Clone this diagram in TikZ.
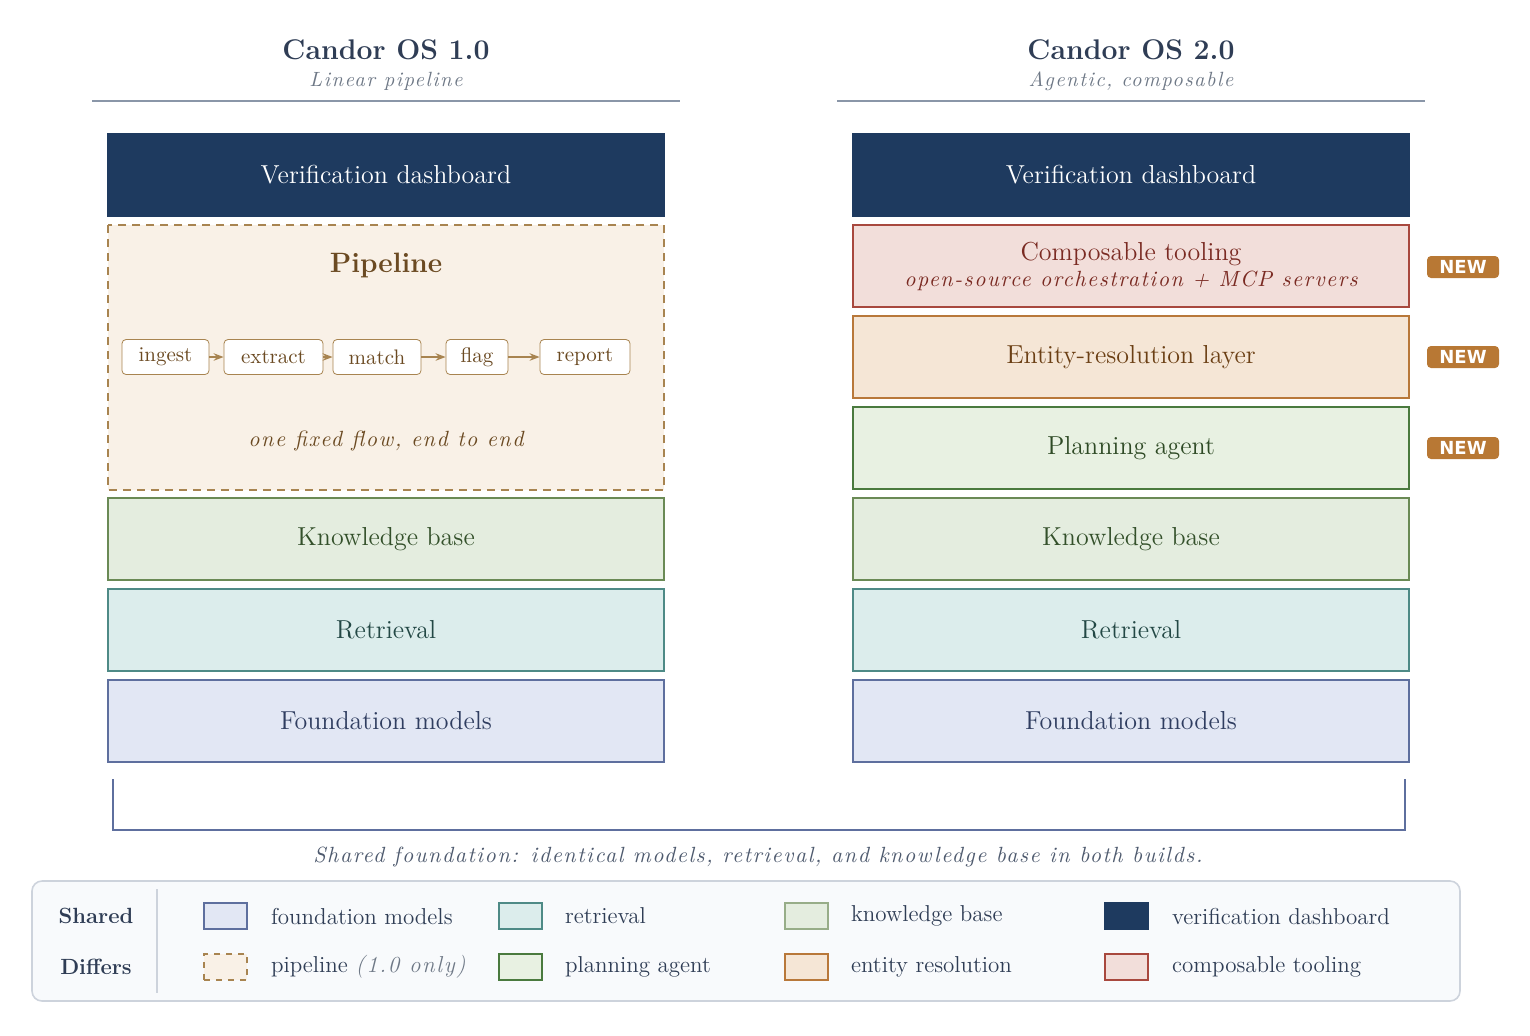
\documentclass[tikz,border=0pt]{standalone}
\usepackage{fontspec}
\newfontfamily\badgefont{DejaVu Sans}
\newfontfamily\spit{Latin Modern Roman}[LetterSpace=7]
\usetikzlibrary{arrows.meta}
\definecolor{navy}{HTML}{1E3A5F}
\definecolor{ink}{HTML}{2F3D55}
\definecolor{grayline}{HTML}{8A96A8}
\definecolor{pipefill}{HTML}{F9F1E7}\definecolor{pipeline}{HTML}{A88450}\definecolor{pipetext}{HTML}{6B4A22}
\definecolor{kbfill}{HTML}{E4EDDF}\definecolor{kbline}{HTML}{6A8A55}\definecolor{kbtext}{HTML}{33502A}
\definecolor{rtfill}{HTML}{DCEDEC}\definecolor{rtline}{HTML}{4E8A86}\definecolor{rttext}{HTML}{234845}
\definecolor{fmfill}{HTML}{E2E7F4}\definecolor{fmline}{HTML}{5E6F9E}\definecolor{fmtext}{HTML}{2F3D60}
\definecolor{ctfill}{HTML}{F2DEDA}\definecolor{ctline}{HTML}{A8483E}\definecolor{cttext}{HTML}{7A2A22}
\definecolor{erfill}{HTML}{F5E6D6}\definecolor{erline}{HTML}{B8783A}\definecolor{ertext}{HTML}{6B3F14}
\definecolor{pafill}{HTML}{E8F1E2}\definecolor{paline}{HTML}{4A7A3E}\definecolor{patext}{HTML}{2E4A25}
\definecolor{badge}{HTML}{B87834}
\definecolor{legfill}{HTML}{F8FAFC}\definecolor{legline}{HTML}{CDD3DC}
\begin{document}
\begin{tikzpicture}[x=0.5pt,y=-0.5pt,
 layer/.style={draw, line width=1pt, minimum width=278pt, minimum height=41pt, font=\fontsize{13}{15}\selectfont, align=center, inner sep=0pt},
 pstep/.style={draw=pipeline, fill=white, rounded corners=2pt, font=\fontsize{10.5}{12}\selectfont, text=pipetext, minimum height=17.5pt, inner sep=1pt},
 arr/.style={-{Stealth[length=5pt]}, draw=pipeline, line width=0.8pt},
 newb/.style={fill=badge, text=white, rounded corners=2pt, font=\badgefont\bfseries\fontsize{9}{10}\selectfont, minimum width=36pt, minimum height=11pt, inner sep=0pt},
 sw/.style={draw, line width=0.8pt, minimum width=21.5pt, minimum height=13pt, inner sep=0pt},
 lt/.style={anchor=west, font=\fontsize{11.5}{14}\selectfont, text=ink},
 title/.style={font=\bfseries\fontsize{14.2}{16}\selectfont, text=ink},
 sub/.style={font=\spit\itshape\fontsize{10.3}{12}\selectfont, text=grayline!80!black}]
\useasboundingbox (0,0) rectangle (1530,1035);
% headers
\node[title] (t1) at (386,50) {Candor OS 1.0};
\node[sub] (s1) at (386,81) {Linear pipeline};
\draw[grayline, line width=0.8pt] (92,101) -- (680,101);
\node[title] (t2) at (1131,50) {Candor OS 2.0};
\node[sub] (s2) at (1131,81) {Agentic, composable};
\draw[grayline, line width=0.8pt] (837,101) -- (1425,101);
% left column
\node[layer, fill=navy, draw=navy, text=white] (ld) at (386,175) {Verification dashboard};
\draw[pipeline, fill=pipefill, dashed, line width=1pt, dash pattern=on 4pt off 3pt] (108,225) rectangle (664,490);
\node[font=\bfseries\fontsize{14}{16}\selectfont, text=pipetext] (pt) at (386,265) {Pipeline};
\node[pstep, minimum width=43.5pt] (p1) at (165.5,357) {ingest};
\node[pstep, minimum width=49.5pt] (p2) at (273.5,357) {extract};
\node[pstep, minimum width=44pt] (p3) at (377,357) {match};
\node[pstep, minimum width=31pt] (p4) at (477,357) {flag};
\node[pstep, minimum width=45pt] (p5) at (585,357) {report};
\draw[arr] (p1) -- (p2); \draw[arr] (p2) -- (p3); \draw[arr] (p3) -- (p4); \draw[arr] (p4) -- (p5);
\node[font=\spit\itshape\fontsize{11}{12}\selectfont, text=pipetext] (pc) at (386,441) {one fixed flow, end to end};
\node[layer, fill=kbfill, draw=kbline, text=kbtext] (lk) at (386,539) {Knowledge base};
\node[layer, fill=rtfill, draw=rtline, text=rttext] (lr) at (386,630) {Retrieval};
\node[layer, fill=fmfill, draw=fmline, text=fmtext] (lf) at (386,721) {Foundation models};
% right column
\node[layer, fill=navy, draw=navy, text=white] (rd) at (1131,175) {Verification dashboard};
\node[layer, fill=ctfill, draw=ctline, text=cttext, line width=1.3pt] (rc) at (1131,266) {Composable tooling\\[-2pt]{\spit\itshape\fontsize{11}{12}\selectfont open-source orchestration + MCP servers}};
\node[layer, fill=erfill, draw=erline, text=ertext, line width=1.3pt] (re) at (1131,357) {Entity-resolution layer};
\node[layer, fill=pafill, draw=paline, text=patext, line width=1.3pt] (rp) at (1131,448) {Planning agent};
\node[layer, fill=kbfill, draw=kbline, text=kbtext] (rk) at (1131,539) {Knowledge base};
\node[layer, fill=rtfill, draw=rtline, text=rttext] (rr) at (1131,630) {Retrieval};
\node[layer, fill=fmfill, draw=fmline, text=fmtext] (rf) at (1131,721) {Foundation models};
\node[newb] (n1) at (1463,267) {NEW};
\node[newb] (n2) at (1463,357) {NEW};
\node[newb] (n3) at (1463,448) {NEW};
% bracket
\coordinate (b1) at (113,779); \coordinate (b2) at (1405,779);
\draw[fmline, line width=0.8pt] (b1) -- (113,830) -- (1405,830) -- (b2);
\node[font=\spit\itshape\fontsize{11}{12}\selectfont, text=ink!85] (cap) at (758,857) {Shared foundation: identical models, retrieval, and knowledge base in both builds.};
% legend
\draw[legline, fill=legfill, rounded corners=5pt, line width=0.8pt] (32,881) rectangle (1460,1001);
\draw[legline, line width=0.6pt] (157,889) -- (157,993);
\node[font=\bfseries\fontsize{11}{13}\selectfont, text=ink] (lsh) at (96,916) {Shared};
\node[font=\bfseries\fontsize{11}{13}\selectfont, text=ink] (ldf) at (96,967) {Differs};
\node[sw, fill=fmfill, draw=fmline] (w1) at (225.5,916) {}; \node[lt] (l1) at (264,916) {foundation models};
\node[sw, fill=rtfill, draw=rtline] (w2) at (520.5,916) {}; \node[lt] (l2) at (558,916) {retrieval};
\node[sw, fill=kbfill, draw=kbline!70] (w3) at (806.5,916) {}; \node[lt] (l3) at (844,916) {knowledge base};
\node[sw, fill=navy, draw=navy] (w4) at (1126.5,916) {}; \node[lt] (l4) at (1165,916) {verification dashboard};
\node[sw, fill=pipefill, draw=pipeline, dashed] (w5) at (225.5,967) {}; \node[lt] (l5) at (264,967) {pipeline {\spit\itshape\color{grayline!80!black}(1.0 only)}};
\node[sw, fill=pafill, draw=paline] (w6) at (520.5,967) {}; \node[lt] (l6) at (558,967) {planning agent};
\node[sw, fill=erfill, draw=erline] (w7) at (806.5,967) {}; \node[lt] (l7) at (844,967) {entity resolution};
\node[sw, fill=ctfill, draw=ctline] (w8) at (1126.5,967) {}; \node[lt] (l8) at (1165,967) {composable tooling};
\end{tikzpicture}
\end{document}
